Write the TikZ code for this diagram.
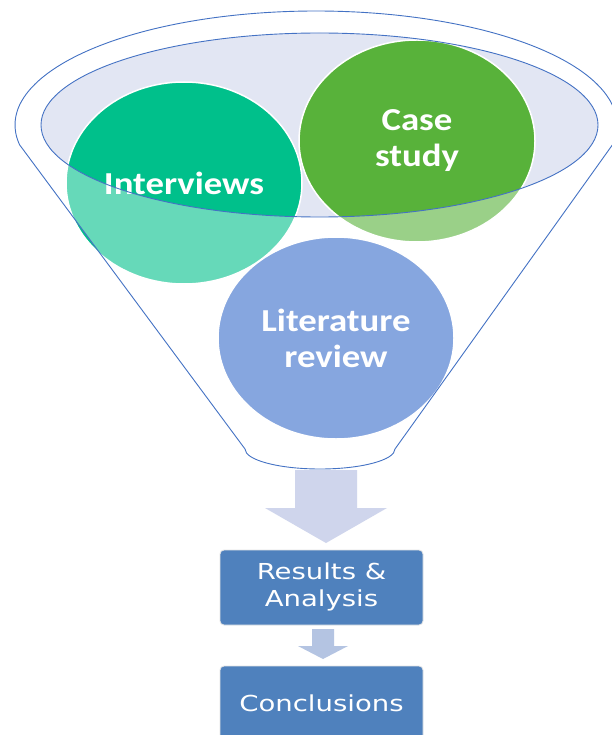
\documentclass[tikz,border=0pt]{standalone}
\usepackage{fontspec}
\setmainfont{Carlito}
\newfontfamily\boxfont{DejaVu Sans}
\usetikzlibrary{shapes.geometric}

\definecolor{funnelline}{RGB}{68,114,196}
\definecolor{rimfill}{RGB}{226,230,243}
\definecolor{intcol}{RGB}{0,192,139}
\definecolor{casecol}{RGB}{88,178,58}
\definecolor{litcol}{RGB}{134,166,223}
\definecolor{boxcol}{RGB}{79,129,189}
\definecolor{bigarrow}{RGB}{207,213,236}
\definecolor{smallarrow}{RGB}{180,196,226}

% outline of the funnel: top rim arc, two sides, rounded spout
\def\funnelpath{(19.6,-144.8) arc[start angle=190,end angle=-10,x radius=301,y radius=114]
  -- (395,-449) arc[start angle=0,end angle=-180,x radius=75,y radius=20] -- cycle}
\def\rimpath{(319.5,-125) ellipse [x radius=278.5,y radius=92]}

\tikzset{
  blob/.style={ellipse, draw=white, line width=1.5pt, inner sep=0pt,
    minimum width=236pt, minimum height=202pt, text=white,
    font=\bfseries\fontsize{32}{36}\selectfont, align=center},
  stagebox/.style={rectangle, rounded corners=4pt, fill=boxcol, draw=white!90!black,
    line width=0.8pt, minimum width=203pt, minimum height=75pt, inner sep=0pt,
    text=white, font=\boxfont\fontsize{22}{27}\selectfont},
  outline/.style={draw=funnelline, line width=0.9pt}
}

\newcommand{\wide}[1]{\scalebox{1.15}[1]{#1}}
\newcommand{\boxwide}[1]{\scalebox{1.25}[1]{#1}}

\begin{document}
\begin{tikzpicture}[x=1pt,y=1pt]
\useasboundingbox (0,0) rectangle (612,-735);
\fill[white] (0,0) rectangle (612,-735);

% opening of the funnel
\fill[rimfill] \rimpath;

% sources poured into the funnel
\node[blob, fill=intcol] (int) at (184,-183) {\wide{Interviews}};
\node[blob, fill=casecol] (case) at (417,-141) {\wide{Case}\\\wide{study}};

% translucent front wall of the funnel
\fill[white, opacity=0.4, even odd rule] \funnelpath \rimpath;

\node[blob, fill=litcol] (lit) at (336,-338) {\wide{Literature}\\\wide{review}};

% funnel outlines
\draw[outline, line join=round] \funnelpath;
\draw[outline] \rimpath;

% outputs
\node[stagebox] (res) at (321.5,-587.5)
  {\boxwide{\begin{tabular}{@{}c@{}}Results \&\\Analysis\end{tabular}}};
\node[stagebox] (con) at (321.5,-703.5) {\boxwide{Conclusions}};

% block arrows
\fill[bigarrow] (295,-470) -- (357,-470) -- (357,-508) -- (387,-508)
  -- (326,-543) -- (265,-508) -- (295,-508) -- cycle;
\fill[smallarrow] (312,-629) -- (334,-629) -- (334,-646) -- (348,-646)
  -- (323,-659) -- (298,-646) -- (312,-646) -- cycle;
\end{tikzpicture}
\end{document}
